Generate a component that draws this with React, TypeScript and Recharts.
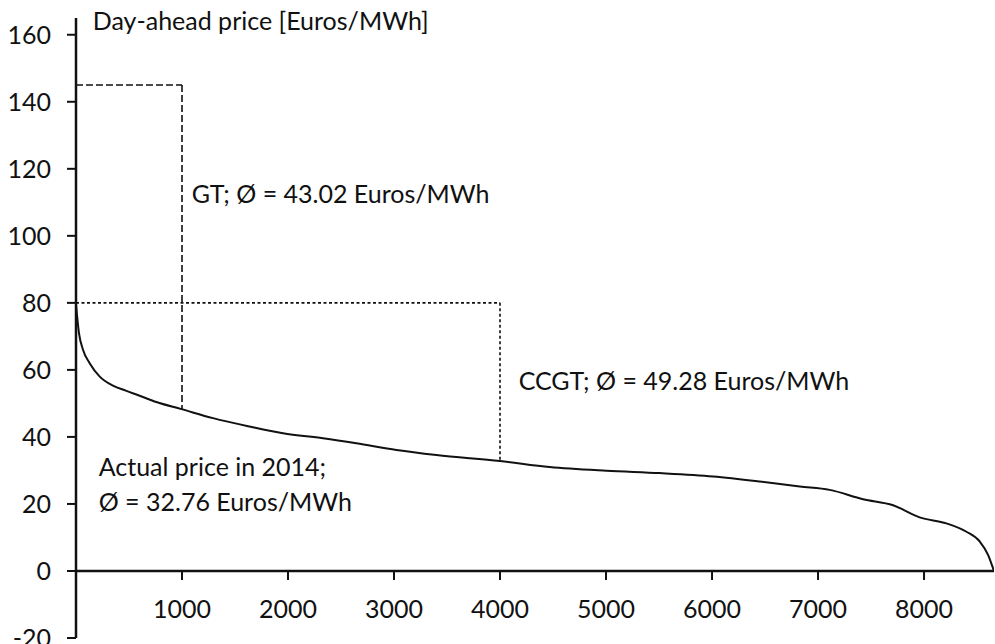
import React from 'react';
import { LineChart, Line, XAxis, YAxis, ReferenceLine, ReferenceDot } from 'recharts';

// price duration curve, hours sorted by day-ahead price
const hours = [0, 28, 66, 129, 224, 349, 470, 600, 758, 994, 1293, 1639, 1953, 2330, 2645, 3023, 3400, 4000, 4469, 5004, 5507, 6010, 6450, 6827, 7110, 7425, 7708, 7959, 8211, 8400, 8525, 8604, 8651, 8660];
const prices = [79.5, 71, 66, 62, 58, 55.3, 53.8, 52.3, 50.4, 48.3, 45.6, 43.1, 41.1, 39.6, 38.1, 36.1, 34.6, 32.8, 31.0, 29.9, 29.2, 28.2, 26.7, 25.2, 24.2, 21.4, 19.6, 16.0, 14.2, 11.7, 8.8, 4.8, 0.8, 0];

const xTicks = [1000, 2000, 3000, 4000, 5000, 6000, 7000, 8000];
const yTicks = [-20, 0, 20, 40, 60, 80, 100, 120, 140, 160];

// plant boxes: hours of operation and bid price
const gtBox = { hours: 1000, top: 145, bottom: 48.3 };
const ccgtBox = { hours: 4000, top: 80, bottom: 32.8 };

const notes = [
    { x: 158, y: 164.5, text: 'Day-ahead price [Euros/MWh]' },
    { x: 1091, y: 112.8, text: 'GT; Ø = 43.02 Euros/MWh' },
    { x: 4176, y: 56.9, text: 'CCGT; Ø = 49.28 Euros/MWh' },
    { x: 214, y: 31.3, text: 'Actual price in 2014;' },
    { x: 214, y: 21.0, text: 'Ø = 32.76 Euros/MWh' },
];

const data = hours.map((h, i) => ({ hour: h, price: prices[i] }));

const FONT = 'Lato, "Open Sans", sans-serif';
const INK = '#111';
const SIZE = 25;

const XTick = ({ cx, cy, value }: any) => (
    <g>
        <line x1={cx} y1={cy} x2={cx} y2={cy + 9} stroke={INK} strokeWidth={2} />
        <text x={cx} y={cy + 37} textAnchor="middle" dominantBaseline="central" fontSize={SIZE} fontFamily={FONT} fill={INK}>
            {value}
        </text>
    </g>
);

const Note = ({ cx, cy, text }: any) => (
    <text x={cx} y={cy} dominantBaseline="central" fontSize={SIZE} fontFamily={FONT} fill={INK}>
        {text}
    </text>
);

export default function App() {
    return (
        <div style={{ position: 'absolute', left: 0, top: 0, background: '#fff' }}>
            <LineChart width={995} height={644} data={data} margin={{ top: 18, right: 1, bottom: 6, left: 0 }}>
                <XAxis type="number" dataKey="hour" domain={[0, 8660]} hide allowDataOverflow />
                <YAxis
                    type="number"
                    domain={[-20, 165]}
                    ticks={yTicks}
                    interval={0}
                    allowDataOverflow
                    width={76}
                    axisLine={{ stroke: INK, strokeWidth: 2.5 }}
                    tickLine={{ stroke: INK, strokeWidth: 2 }}
                    tickSize={9}
                    tickMargin={16}
                    tick={{ fill: INK, fontSize: SIZE, fontFamily: FONT }}
                />

                {/* x axis sits at zero price */}
                <ReferenceLine y={0} stroke={INK} strokeWidth={2.5} />
                {xTicks.map(t => (
                    <ReferenceDot key={t} x={t} y={0} r={0} shape={(p: any) => <XTick {...p} value={t} />} />
                ))}

                {/* GT box */}
                <ReferenceLine segment={[{ x: 0, y: gtBox.top }, { x: gtBox.hours, y: gtBox.top }]} stroke={INK} strokeWidth={1.6} strokeDasharray="7 3" />
                <ReferenceLine segment={[{ x: gtBox.hours, y: gtBox.top }, { x: gtBox.hours, y: gtBox.bottom }]} stroke={INK} strokeWidth={1.6} strokeDasharray="7 3" />

                {/* CCGT box */}
                <ReferenceLine segment={[{ x: 0, y: ccgtBox.top }, { x: ccgtBox.hours, y: ccgtBox.top }]} stroke={INK} strokeWidth={1.6} strokeDasharray="3 2.5" />
                <ReferenceLine segment={[{ x: ccgtBox.hours, y: ccgtBox.top }, { x: ccgtBox.hours, y: ccgtBox.bottom }]} stroke={INK} strokeWidth={1.6} strokeDasharray="3 2.5" />

                <Line type="monotone" dataKey="price" stroke={INK} strokeWidth={2} dot={false} isAnimationActive={false} />

                {notes.map(n => (
                    <ReferenceDot key={n.text} x={n.x} y={n.y} r={0} ifOverflow="visible" shape={(p: any) => <Note {...p} text={n.text} />} />
                ))}
            </LineChart>
        </div>
    );
}
